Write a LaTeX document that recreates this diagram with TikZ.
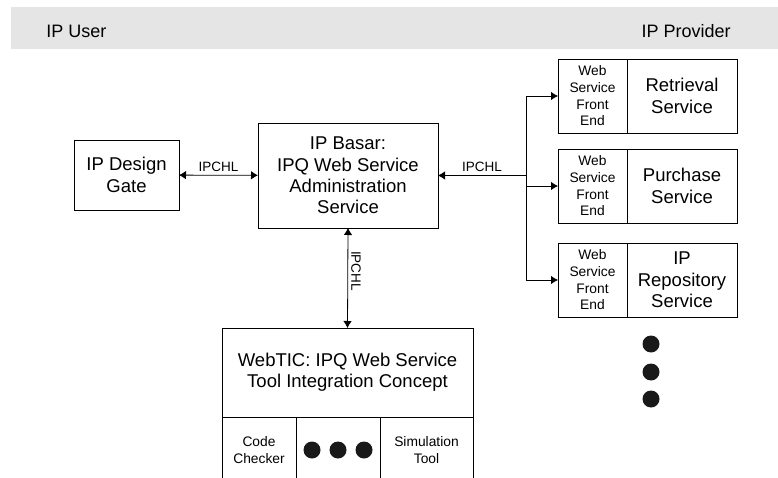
\documentclass[tikz,border=0pt]{standalone}
\usepackage{fontspec}
\setmainfont{Liberation Sans}
\usepackage{tikz}
\usetikzlibrary{positioning}
\usetikzlibrary{arrows.meta}
\tikzset{edge/.style = {> = {Latex[length=7pt,width=8.5pt]}}}

\begin{document}
\begin{tikzpicture}[x=1pt,y=-1pt,line width=0.8pt,edge,
    main node/.style={rectangle,draw,align=center,inner sep=0pt,outer sep=0pt,font=\fontsize{18.5}{21.3}\selectfont},
    fe node/.style={rectangle,draw,align=center,inner sep=0pt,outer sep=0pt,minimum width=69pt,minimum height=74pt,font=\fontsize{13.8}{16.7}\selectfont},
    svc node/.style={main node,minimum width=110pt,minimum height=74pt},
    cell node/.style={fe node,minimum height=66pt},
    dot node/.style={circle,fill=black!90,inner sep=0pt,minimum size=17pt},
    lbl/.style={inner sep=3pt,font=\fontsize{13.5}{16}\selectfont},
    head/.style={inner sep=0pt,font=\fontsize{18}{21}\selectfont}]
    \useasboundingbox (0,0) rectangle (778,478);

    % header band
    \fill[black!10] (11,7) rectangle (778,49);
    \node[head,anchor=west] (user) at (46,31) {IP User};
    \node[head,anchor=east] (provider) at (731,31) {IP Provider};

    % user side
    \node[main node,minimum width=105pt,minimum height=70pt] (gate) at (126.5,175) {IP Design\\Gate};
    \node[main node,minimum width=180pt,minimum height=105pt] (basar) at (348,175.5) {IP Basar:\\IPQ Web Service\\Administration\\Service};
    \node[main node,minimum width=251pt,minimum height=89pt] (webtic) at (347.5,372.5) {WebTIC: IPQ Web Service\\Tool Integration Concept};
    \node[cell node,minimum width=74pt,anchor=north west] (code) at (webtic.south west) {Code\\Checker};
    \node[cell node,minimum width=84pt,right=0pt of code] (more) {};
    \node[cell node,minimum width=93pt,right=0pt of more] (sim) {Simulation\\Tool};
    \node[dot node] (t2) at (more) {};
    \node[dot node] (t1) at ([xshift=-26pt]more.center) {};
    \node[dot node] (t3) at ([xshift=26pt]more.center) {};

    % provider side
    \node[fe node] (fe1) at (592.5,96) {Web\\Service\\Front\\End};
    \node[svc node,right=0pt of fe1] (svc1) {Retrieval\\Service};
    \node[fe node,below=16pt of fe1] (fe2) {Web\\Service\\Front\\End};
    \node[svc node,right=0pt of fe2] (svc2) {Purchase\\Service};
    \node[fe node,below=20pt of fe2] (fe3) {Web\\Service\\Front\\End};
    \node[svc node,right=0pt of fe3] (svc3) {IP\\Repository\\Service};
    \node[dot node] (p1) at (651,344) {};
    \node[dot node] (p2) at (651,372) {};
    \node[dot node] (p3) at (651,399) {};

    \coordinate (bus) at (526,175.5);

    \draw[<->] (gate) -- node[lbl,above] (c1) {IPCHL} (basar);
    \draw[<-] (basar.east) -- node[lbl,above] (c2) {IPCHL} (bus);
    \draw[<->] (basar.south) -- node[lbl,pos=0.43,anchor=south,rotate=-90] (c3) {IPCHL} (webtic.north);
    \draw[->] (bus) |- (fe1.west);
    \draw[->] (bus) |- (fe2.west);
    \draw[->] (bus) |- (fe3.west);
\end{tikzpicture}
\end{document}
